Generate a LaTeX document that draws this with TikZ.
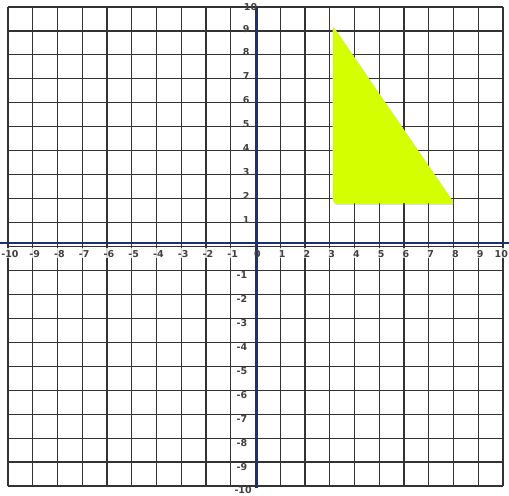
\documentclass[tikz,border=0pt]{standalone}
\usepackage{fontspec}
\setmainfont{DejaVu Sans}
\usetikzlibrary{shadows}
\definecolor{axisNavy}{HTML}{1B3272}
\definecolor{shapeLime}{HTML}{D4FF00}
\definecolor{gridDark}{HTML}{333333}

\tikzset{
  gridline/.style={draw=gridDark,line width=1.2pt},
  axisline/.style={draw=axisNavy,line width=2.6pt},
  ticklabel/.style={text=black!75,inner sep=0pt,font=\fontsize{9.5}{11}\selectfont\bfseries},
}

\begin{document}
\begin{tikzpicture}[x=24.75pt,y=23.95pt]
    \useasboundingbox (-10.323,-10.376) rectangle (10.242,10.292);
    % grid
    \foreach \i in {-10,...,10} {
      \draw[gridline] (\i,-10) -- (\i,10);
      \draw[gridline] (-10,\i) -- (10,\i);
    }
    % label band under the x axis
    \fill[white,opacity=0.8] (-10.323,-0.08) rectangle (10.242,-0.5);
    % axes
    \draw[axisline] (-10.323,0.14) -- (10.242,0.14);
    \draw[axisline] (0.05,10) -- (0.05,-10.1);
    % triangle
    \fill[shapeLime,rounded corners=3pt,
          drop shadow={opacity=0.3,shadow xshift=1.5pt,shadow yshift=-2pt}]
      (3.12,9.22) -- (3.12,1.82) -- (8.02,1.82) -- cycle;
    % labels on the x axis
    \foreach \i in {-10,...,9}
      \node[ticklabel] (xl\i) at (\i+0.08,-0.33) {\i};
    \node[ticklabel] (xl10) at (9.93,-0.33) {10};
    % labels on the y axis
    \foreach \i in {1,...,9}
      \node[ticklabel] (yl\i) at (-0.38,\i+0.1) {\i};
    \node[ticklabel] (yl10) at (-0.2,9.98) {10};
    \foreach \i in {-1,...,-9}
      \node[ticklabel] (yl\i) at (-0.55,\i-0.2) {\i};
    \node[ticklabel] (yl-10) at (-0.5,-10.15) {-10};
  \end{tikzpicture}
\end{document}
